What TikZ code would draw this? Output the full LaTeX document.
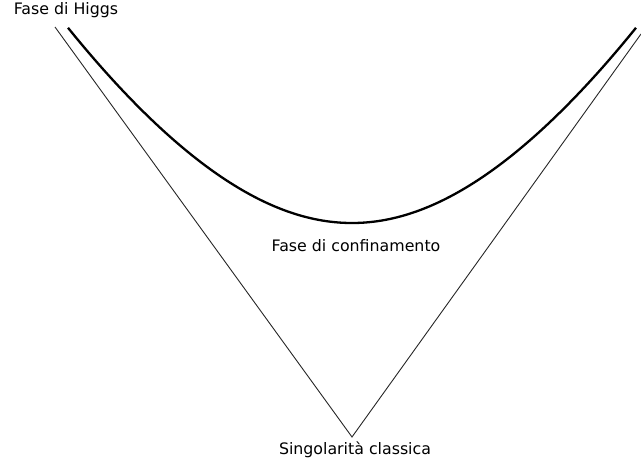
\documentclass[tikz,border=0pt]{standalone}
\usepackage{fontspec}
\setmainfont{DejaVu Sans}
\begin{document}
\begin{tikzpicture}[x=1pt,y=-1pt,
  lbl/.style={font=\fontsize{15.8}{18}\selectfont, inner sep=0pt},
  thinline/.style={line width=0.9pt, draw=black!85},
  thickline/.style={line width=2.3pt}]
\useasboundingbox (0,0) rectangle (641,464);
\coordinate (L) at (55,27);
\coordinate (B) at (352,437);
\coordinate (R) at (641,34);
\draw[thinline] (L) -- (B) -- (R);
\draw[thickline, domain=68:636, samples=120, smooth]
  plot (\x, {223-0.5*0.00243*(\x-352)*(\x-352)
             -50*(sqrt(2.938*2.938+1.9044*((\x-352)/100)*((\x-352)/100))-2.938)});
\node[lbl] (higgs) at (66,10) {Fase di Higgs};
\node[lbl] (conf) at (356,246) {Fase di confinamento};
\node[lbl] (sing) at (355,450) {Singolarità classica};
\end{tikzpicture}
\end{document}
